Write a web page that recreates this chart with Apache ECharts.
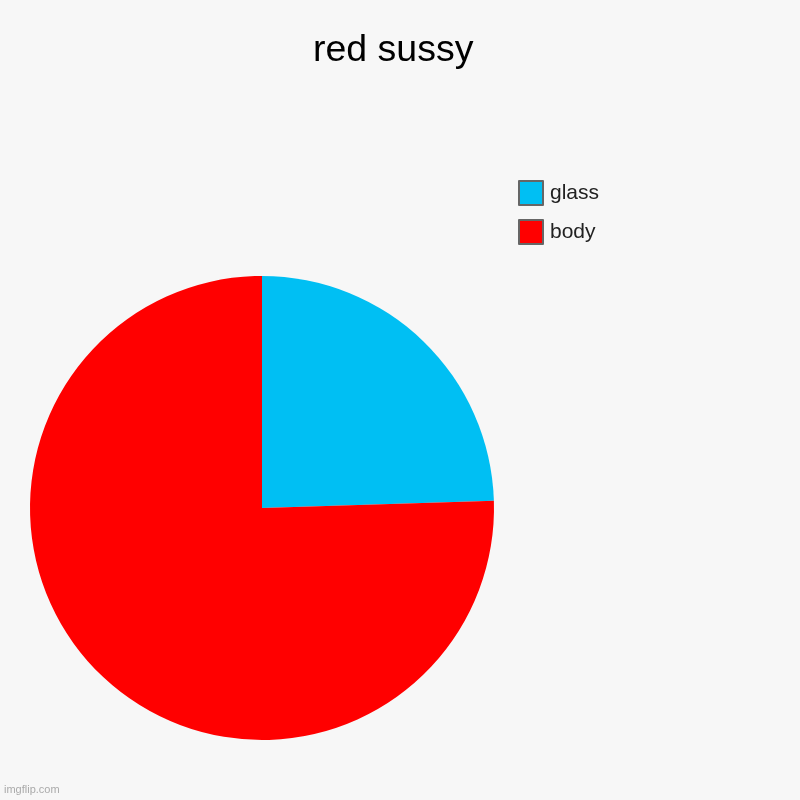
<!DOCTYPE html>
<html lang="en">
<head>
    <meta charset="utf-8">
    <title>red sussy</title>
    <script src="https://cdn.jsdelivr.net/npm/echarts@6/dist/echarts.min.js"></script>
    <style>
        html, body { margin: 0; padding: 0; background: #f7f7f7; }
        #main { width: 800px; height: 800px; }
    </style>
</head>
<body>
    <div id="main"></div>
    <script type="text/javascript">
        var names = ['glass', 'body'];
        var values = [24.5, 75.5];
        var colors = ['#00bff3', '#ff0000'];

        var myChart = echarts.init(document.getElementById('main'));

        var pieData = [];
        for (var i = 0; i < names.length; i++) {
            pieData.push({ name: names[i], value: values[i], itemStyle: { color: colors[i] } });
        }

        myChart.setOption({
            backgroundColor: '#f7f7f7',
            animation: false,
            title: {
                text: 'red sussy',
                left: 308,
                top: 27,
                textStyle: { fontFamily: 'Liberation Sans', fontSize: 37.5, fontWeight: 'normal', color: '#000' }
            },
            legend: {
                orient: 'vertical',
                left: 513,
                top: 175,
                itemWidth: 24,
                itemHeight: 24,
                itemGap: 13,
                icon: 'rect',
                data: names,
                itemStyle: { borderColor: '#666', borderWidth: 2 },
                textStyle: { fontFamily: 'Liberation Sans', fontSize: 21, color: '#222', padding: [0, 0, 0, 2] }
            },
            graphic: [{
                type: 'text',
                left: 4,
                top: 784,
                style: { text: 'imgflip.com', fontFamily: 'Liberation Sans', fontSize: 11, fill: '#aaa' }
            }],
            series: [{
                type: 'pie',
                center: [262, 508],
                radius: 232,
                startAngle: 90,
                clockwise: true,
                label: { show: false },
                labelLine: { show: false },
                emphasis: { disabled: true },
                itemStyle: { borderWidth: 0 },
                data: pieData
            }]
        });
    </script>
</body>
</html>
